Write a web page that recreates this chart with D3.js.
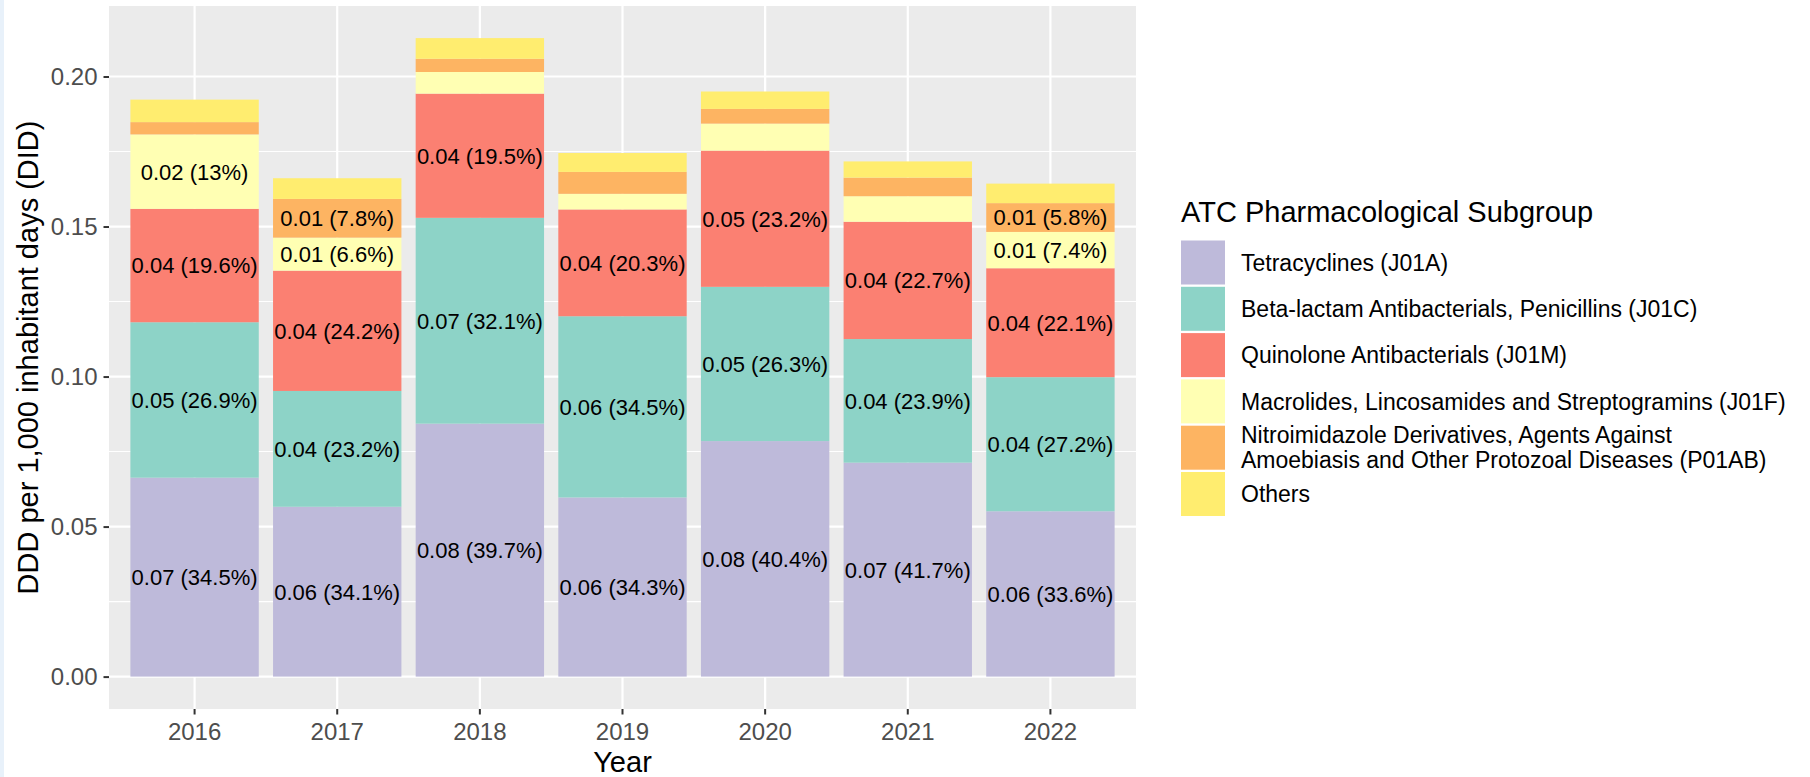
<!DOCTYPE html>
<html lang="en">
<head>
<meta charset="UTF-8">
<title>DDD per 1,000 inhabitant days by ATC subgroup</title>
<script src="https://d3js.org/d3.v7.min.js"></script>
<style>
    body { margin: 0; background: #fff; font-family: "Liberation Sans", Arial, sans-serif; }
    .tick text { font-family: "Liberation Sans", Arial, sans-serif; }
</style>
</head>
<body>
<script>
// data (DID values per subgroup, stacked bottom -> top)
const years = ["2016", "2017", "2018", "2019", "2020", "2021", "2022"];
const groups = [
    "Tetracyclines (J01A)",
    "Beta-lactam Antibacterials, Penicillins (J01C)",
    "Quinolone Antibacterials (J01M)",
    "Macrolides, Lincosamides and Streptogramins (J01F)",
    "Nitroimidazole Derivatives, Agents Against\nAmoebiasis and Other Protozoal Diseases (P01AB)",
    "Others"
];
const colors = ["#BEBADA", "#8DD3C7", "#FB8072", "#FFFFB3", "#FDB462", "#FFED6F"];

const tetracyclines = [0.0663, 0.0566, 0.0843, 0.0597, 0.0785, 0.0713, 0.0551];
const betaLactam    = [0.0518, 0.0386, 0.0686, 0.0604, 0.0514, 0.0412, 0.0447];
const quinolone     = [0.0378, 0.0401, 0.0414, 0.0356, 0.0454, 0.0391, 0.0363];
const macrolides    = [0.0248, 0.0110, 0.0072, 0.0052, 0.0090, 0.0085, 0.0121];
const nitroimid     = [0.0041, 0.0129, 0.0044, 0.0073, 0.0049, 0.0062, 0.0096];
const others        = [0.0075, 0.0069, 0.0069, 0.0063, 0.0058, 0.0054, 0.0065];

// percentage labels as printed (null = not labelled)
const pctTetracyclines = [34.5, 34.1, 39.7, 34.3, 40.4, 41.7, 33.6];
const pctBetaLactam    = [26.9, 23.2, 32.1, 34.5, 26.3, 23.9, 27.2];
const pctQuinolone     = [19.6, 24.2, 19.5, 20.3, 23.2, 22.7, 22.1];
const pctMacrolides    = [13, 6.6, null, null, null, null, 7.4];
const pctNitroimid     = [null, 7.8, null, null, null, null, 5.8];
const pctOthers        = [null, null, null, null, null, null, null];

const yTicks = [0, 0.05, 0.10, 0.15, 0.20];
const yMinorTicks = [0.025, 0.075, 0.125, 0.175];

const series = [tetracyclines, betaLactam, quinolone, macrolides, nitroimid, others];
const pcts = [pctTetracyclines, pctBetaLactam, pctQuinolone, pctMacrolides, pctNitroimid, pctOthers];

const rows = years.map((y, i) => {
    const r = { year: y };
    groups.forEach((g, k) => { r[g] = series[k][i]; });
    return r;
});

const W = 1810, H = 777;
const panel = { left: 109, right: 1136, top: 6, bottom: 709 };

const svg = d3.select("body").append("svg")
    .attr("width", W)
    .attr("height", H);

// thin light-blue strip on the left edge of the original picture
svg.append("rect").attr("x", 0).attr("y", 0).attr("width", 4).attr("height", H).attr("fill", "#E8F1FA");

const x = d3.scaleBand()
    .domain(years)
    .range([panel.left, panel.right])
    .paddingInner(0.1)
    .paddingOuter(0.15);

const y = d3.scaleLinear()
    .domain([-0.0108, 0.2235])
    .range([panel.bottom, panel.top]);

// panel background + grid
svg.append("rect")
    .attr("x", panel.left).attr("y", panel.top)
    .attr("width", panel.right - panel.left)
    .attr("height", panel.bottom - panel.top)
    .attr("fill", "#EBEBEB");

svg.append("g").selectAll("line")
    .data(yMinorTicks).join("line")
    .attr("x1", panel.left).attr("x2", panel.right)
    .attr("y1", d => y(d)).attr("y2", d => y(d))
    .attr("stroke", "#fff").attr("stroke-width", 1.1);

svg.append("g").selectAll("line")
    .data(yTicks).join("line")
    .attr("x1", panel.left).attr("x2", panel.right)
    .attr("y1", d => y(d)).attr("y2", d => y(d))
    .attr("stroke", "#fff").attr("stroke-width", 2.2);

svg.append("g").selectAll("line")
    .data(years).join("line")
    .attr("x1", d => x(d) + x.bandwidth() / 2).attr("x2", d => x(d) + x.bandwidth() / 2)
    .attr("y1", panel.top).attr("y2", panel.bottom)
    .attr("stroke", "#fff").attr("stroke-width", 2.2);

// stacked bars
const stacked = d3.stack().keys(groups)(rows);

const layer = svg.append("g").selectAll("g")
    .data(stacked).join("g")
    .attr("fill", (d, i) => colors[i]);

layer.selectAll("rect")
    .data(d => d).join("rect")
    .attr("x", d => x(d.data.year))
    .attr("width", x.bandwidth())
    .attr("y", d => y(d[1]))
    .attr("height", d => y(d[0]) - y(d[1]));

// segment labels
const fmtPct = p => (Math.round(p * 10) / 10).toString();
stacked.forEach((s, k) => {
    svg.append("g").selectAll("text")
        .data(s.filter((d, i) => pcts[k][i] !== null).map(d => ({ d, i: years.indexOf(d.data.year) })))
        .join("text")
        .attr("x", o => x(o.d.data.year) + x.bandwidth() / 2)
        .attr("y", o => y((o.d[0] + o.d[1]) / 2))
        .attr("dy", "0.36em")
        .attr("text-anchor", "middle")
        .style("font-size", "22px")
        .attr("fill", "#000")
        .text(o => `${series[k][o.i].toFixed(2)} (${fmtPct(pcts[k][o.i])}%)`);
});

// axes
const yAxis = svg.append("g")
    .attr("transform", `translate(${panel.left},0)`)
    .call(d3.axisLeft(y).tickValues(yTicks).tickFormat(d3.format(".2f")).tickSize(5.5).tickPadding(6));
yAxis.select(".domain").remove();
yAxis.selectAll(".tick line").attr("stroke", "#333").attr("stroke-width", 2);
yAxis.selectAll(".tick text").style("font-size", "24px").attr("fill", "#4D4D4D");

const xAxis = svg.append("g")
    .attr("transform", `translate(0,${panel.bottom})`)
    .call(d3.axisBottom(x).tickSize(5.5).tickPadding(8));
xAxis.select(".domain").remove();
xAxis.selectAll(".tick line").attr("stroke", "#333").attr("stroke-width", 2);
xAxis.selectAll(".tick text").style("font-size", "24px").attr("fill", "#4D4D4D");

// axis titles
svg.append("text")
    .attr("x", (panel.left + panel.right) / 2)
    .attr("y", 772)
    .attr("text-anchor", "middle")
    .style("font-size", "29px")
    .text("Year");

svg.append("text")
    .attr("transform", `translate(38,${(panel.top + panel.bottom) / 2}) rotate(-90)`)
    .attr("text-anchor", "middle")
    .style("font-size", "29px")
    .text("DDD per 1,000 inhabitant days (DID)");

// legend
const legend = svg.append("g").attr("transform", "translate(1181,0)");
legend.append("text")
    .attr("x", 0).attr("y", 222)
    .style("font-size", "29px")
    .text("ATC Pharmacological Subgroup");

const keyTop = 240.5, keyStep = 46.3, keySize = 44;
groups.forEach((g, i) => {
    const cy = keyTop + i * keyStep + keySize / 2;
    legend.append("rect")
        .attr("x", 0).attr("y", keyTop + i * keyStep)
        .attr("width", keySize).attr("height", keySize)
        .attr("fill", colors[i]);
    const lines = g.split("\n");
    const t = legend.append("text")
        .attr("x", 60)
        .style("font-size", "23px");
    lines.forEach((ln, j) => {
        t.append("tspan")
            .attr("x", 60)
            .attr("y", cy + (j - (lines.length - 1) / 2) * 25)
            .attr("dy", "0.36em")
            .text(ln);
    });
});
</script>
</body>
</html>
